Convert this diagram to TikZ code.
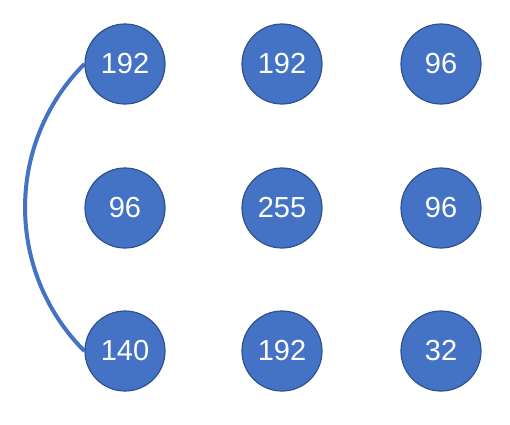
\documentclass[tikz,border=0pt]{standalone}
\usepackage{fontspec}
\setmainfont{Liberation Sans}
\usetikzlibrary{backgrounds}
\definecolor{nodeblue}{HTML}{4472C4}
\definecolor{nodeedge}{HTML}{2F528F}
\tikzset{
  val/.style={circle, fill=nodeblue, draw=nodeedge, line width=1.2pt, minimum size=80pt, inner sep=0pt, text=white, font=\fontsize{29}{29}\selectfont},
  link/.style={draw=nodeblue, line width=4pt}
}
\begin{document}
\begin{tikzpicture}[x=1pt,y=-1pt]
\useasboundingbox (0,0) rectangle (510,424);
\node[val] (a) at (125,64) {192};
\node[val] (b) at (282,64) {192};
\node[val] (c) at (441,64) {96};
\node[val] (d) at (125,208) {96};
\node[val] (e) at (282,208) {255};
\node[val] (f) at (441,208) {96};
\node[val] (g) at (125,351) {140};
\node[val] (h) at (282,351) {192};
\node[val] (i) at (441,351) {32};
\begin{scope}[on background layer]
\draw[link] (a.west) to[bend right=45] (g.west);
\end{scope}
\end{tikzpicture}
\end{document}
